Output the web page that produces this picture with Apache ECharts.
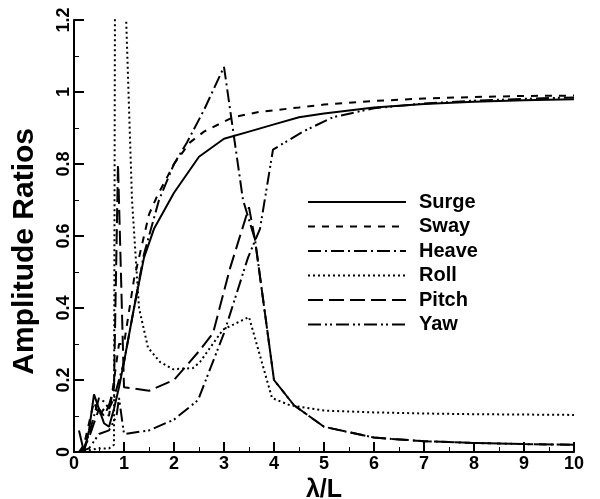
<!DOCTYPE html>
<html><head><meta charset="utf-8">
<script src="https://cdn.jsdelivr.net/npm/echarts@6/dist/echarts.min.js"></script>
<style>html,body{margin:0;padding:0;background:#fff}#c{width:600px;height:499px}</style>
</head><body><div id="c"></div>
<script>
const seriesNames = ['Surge','Sway','Heave','Roll','Pitch','Yaw'];
const xTicks = [0,1,2,3,4,5,6,7,8,9,10];
const yTicks = [0,0.2,0.4,0.6,0.8,1,1.2];

const surge = [[0.1,0.06],[0.2,0.0],[0.3,0.06],[0.4,0.16],[0.5,0.12],[0.6,0.08],[0.7,0.07],[0.8,0.12],[0.9,0.18],[1.0,0.25],[1.2,0.4],[1.4,0.54],[1.6,0.62],[2.0,0.72],[2.5,0.82],[3.0,0.87],[3.5,0.89],[4.0,0.91],[4.5,0.93],[5,0.94],[6,0.957],[7,0.967],[8,0.973],[9,0.977],[10,0.98]];
const sway = [[0.1,0.0],[0.2,0.02],[0.3,0.08],[0.4,0.14],[0.5,0.1],[0.6,0.12],[0.7,0.1],[0.8,0.2],[0.9,0.3],[1.0,0.3],[1.2,0.48],[1.5,0.66],[1.66,0.71],[2.0,0.8],[2.32,0.86],[2.6,0.89],[3.18,0.93],[3.72,0.945],[4.5,0.957],[5,0.965],[6,0.975],[7,0.982],[8,0.986],[9,0.989],[10,0.99]];
const heave = [[0.1,0.0],[0.2,0.01],[0.3,0.05],[0.4,0.1],[0.5,0.15],[0.6,0.14],[0.7,0.12],[0.8,0.15],[0.9,0.2],[1.0,0.25],[1.2,0.4],[1.4,0.55],[1.7,0.7],[2.0,0.8],[2.26,0.86],[2.6,0.95],[3.0,1.07],[3.38,0.7],[3.62,0.59],[4.0,0.2],[4.4,0.13],[5,0.07],[6,0.04],[7,0.03],[8,0.025],[9,0.022],[10,0.02]];
const roll = [[0.1,0.0],[0.3,0.005],[0.5,0.01],[0.7,0.01],[0.8,0.02],[0.82,1.3],[1.02,1.3],[1.16,0.7],[1.3,0.4],[1.48,0.29],[1.72,0.25],[1.98,0.23],[2.38,0.233],[2.52,0.25],[2.98,0.34],[3.5,0.375],[3.96,0.15],[4.32,0.13],[5,0.115],[6,0.11],[7,0.107],[8,0.105],[9,0.104],[10,0.103]];
const pitch = [[0.1,0.0],[0.2,0.01],[0.3,0.04],[0.4,0.08],[0.5,0.12],[0.6,0.1],[0.7,0.13],[0.8,0.18],[0.88,0.8],[1.0,0.18],[1.5,0.17],[2.0,0.2],[2.5,0.28],[2.78,0.33],[3.12,0.51],[3.5,0.68],[3.62,0.59],[4.0,0.2],[4.4,0.13],[5,0.07],[6,0.04],[7,0.03],[8,0.025],[9,0.022],[10,0.02]];
const yaw = [[0.1,0.0],[0.3,0.01],[0.5,0.05],[0.7,0.06],[0.85,0.1],[0.9,0.15],[1.0,0.05],[1.5,0.06],[2.0,0.09],[2.48,0.144],[3.0,0.33],[3.48,0.54],[3.72,0.62],[3.98,0.84],[4.58,0.89],[5.18,0.93],[6,0.955],[7,0.968],[8,0.976],[9,0.981],[10,0.985]];

const dataSets = [surge, sway, heave, roll, pitch, yaw];
const dashes = ['solid', [7,7], [13,4,2,4], [2,3], [15,6], [13,4,2,3,2,4]];

const chart = echarts.init(document.getElementById('c'), null, {renderer:'canvas'});
const font = 'Liberation Sans, Arial, sans-serif';
chart.setOption({
  animation:false,
  backgroundColor:'#fff',
  grid:{left:74, right:26, top:20, bottom:47, containLabel:false, outerBoundsMode:'none'},
  legend:{
    show:true, orient:'vertical', left:302, top:187, itemWidth:98, itemHeight:14, itemGap:4.5,
    data:seriesNames,
    itemStyle:{opacity:0},
    textStyle:{fontFamily:font, fontWeight:'bold', fontSize:20, lineHeight:20, color:'#000', padding:[0,0,0,8]}
  },
  xAxis:{
    type:'value', min:0, max:10, interval:1,
    name:'λ/L', nameLocation:'middle', nameGap:24,
    nameTextStyle:{fontFamily:font, fontWeight:'bold', fontSize:25, color:'#000'},
    axisLine:{onZero:false, lineStyle:{color:'#000', width:2}},
    axisTick:{inside:true, length:10, lineStyle:{color:'#000', width:2}},
    minorTick:{show:true, splitNumber:2, length:5, lineStyle:{color:'#000', width:1}},
    axisLabel:{fontFamily:font, fontWeight:'bold', fontSize:18, color:'#000', margin:3},
    splitLine:{show:false}
  },
  yAxis:{
    type:'value', min:0, max:1.2, interval:0.2,
    axisLine:{show:true, onZero:false, lineStyle:{color:'#000', width:2}},
    axisTick:{show:true, inside:true, length:10, lineStyle:{color:'#000', width:2}},
    minorTick:{show:true, splitNumber:2, length:5, lineStyle:{color:'#000', width:1}},
    axisLabel:{fontFamily:font, fontWeight:'bold', fontSize:18, color:'#000', rotate:90, margin:1},
    splitLine:{show:false}
  },
  graphic:[{type:'text', left:10, top:128, rotation:Math.PI/2,
    style:{text:'Amplitude Ratios', font:'bold 30px ' + font, fill:'#000'}}],
  series: seriesNames.map((n,i)=>({
    name:n, type:'line', data:dataSets[i], symbol:'none', clip:true,
    lineStyle:{color:'#000', width:2, type:dashes[i]}, itemStyle:{color:'#000'}
  }))
});
</script></body></html>
